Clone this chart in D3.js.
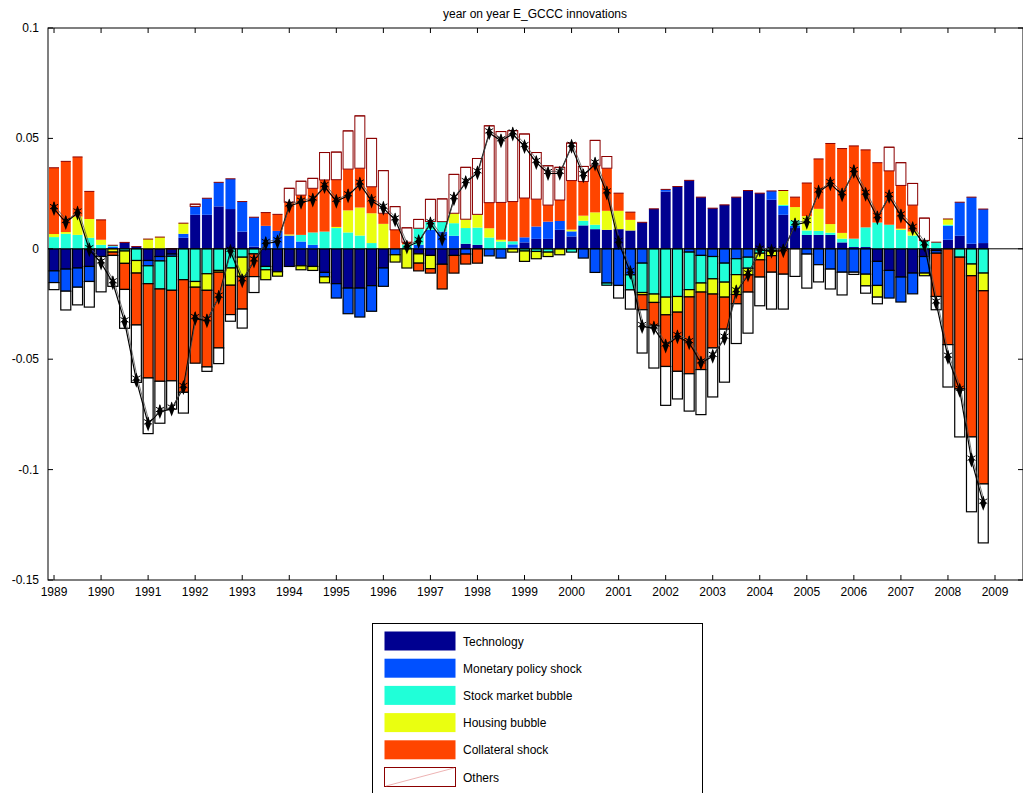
<!DOCTYPE html>
<html><head><meta charset="utf-8">
<script src="https://cdn.jsdelivr.net/npm/d3@7"></script>
<style>body{margin:0;background:#fff}text{font-family:"Liberation Sans",Arial,sans-serif}</style>
</head><body><svg id="c" width="1023" height="793"></svg>
<script>
const seriesNames=["Technology","Monetary policy shock","Stock market bubble","Housing bubble","Collateral shock","Others"];
const seriesColors=["#000090","#0050ff","#20ffd8","#eaff10","#ff4500","#ffffff"];
const yearTicks=d3.range(1989,2010);
const yTicks=[0.1,0.05,0,-0.05,-0.1,-0.15];
const tech=[-0.010,-0.0092,-0.0087,-0.008,-0.0035,0,0.0029,0.001,-0.0053,-0.0035,-0.0024,0.005,0.0154,0.0154,0.0192,0.018,0.0078,0.001,-0.008,-0.0104,-0.008,-0.0077,-0.008,-0.0107,-0.0158,-0.0178,-0.0178,-0.0167,-0.0087,0,0,-0.0023,-0.003,-0.007,-0.003,0.0023,0.0018,0,0,0.0005,0.0029,0.0045,0.0045,0.0086,0.0056,0.0106,0.0089,0.0086,0.0089,0.0083,0.012,0.0181,0.0259,0.0282,0.031,0.0234,0.0184,0.0199,0.0234,0.0264,0.0252,0.0222,0.0154,0.0094,0.0063,0.0063,0.0063,0.0029,0.0008,0.0008,-0.0057,-0.0098,-0.0128,-0.011,-0.0035,-0.0008,0.0041,0.0059,0.0023,0.0026];
const mon=[-0.0053,-0.010,-0.0087,-0.0068,0,0.001,0,0,-0.0024,-0.002,-0.001,0.0018,0.0038,0.0075,0.0109,0.0137,0.0136,0.0133,0.0104,0.0081,0.006,0.0033,0.0018,-0.002,-0.0065,-0.0116,-0.0131,-0.0116,-0.0083,-0.0027,0,0.0018,0.0086,0.0078,0.0059,-0.0024,0,-0.0032,-0.0042,0.0015,0.0023,0.0056,0.0078,0.004,0.0023,-0.0042,-0.0107,-0.0155,-0.0166,-0.0118,-0.0065,0,0.001,0,-0.0015,-0.003,-0.0035,-0.0065,-0.0045,-0.0038,0,0.004,0.004,0.001,-0.0024,-0.0072,-0.0092,-0.0106,-0.0106,-0.0115,-0.0109,-0.0125,-0.0113,-0.0094,-0.0075,-0.0012,0.0063,0.0152,0.0211,0.0154];
const stock=[0.0053,0.0068,0.0063,0.005,0.0018,0.0006,-0.001,-0.0053,-0.0081,-0.0127,-0.0154,-0.014,-0.0148,-0.0113,-0.0098,-0.0087,-0.0038,-0.0023,-0.0015,0,0,0.003,0.0056,0.0078,0.0094,0.0074,0.006,0.0026,0,0,0.002,0.0075,0.0038,0.0045,0.0057,0.0071,0.0078,0.0051,0.0033,0.0014,-0.001,-0.0012,-0.0015,0,-0.0015,0.0021,0.002,-0.001,0,-0.0068,-0.0133,-0.0205,-0.0219,-0.0216,-0.017,-0.0125,-0.0101,-0.0086,-0.0072,-0.005,-0.002,-0.0008,0.0005,0.0025,0.002,0.0018,0.001,0.0017,0.0038,0.0089,0.0119,0.0109,0.0086,0.006,0.0038,0.003,0.0005,-0.0038,-0.0069,-0.011];
const housing=[0.0014,0.0008,0.0083,0.0085,0.0023,-0.0015,-0.0056,-0.0057,0.0044,0.0053,0,0.0048,-0.0026,-0.0075,-0.0008,-0.0078,-0.0087,0,-0.0045,-0.002,0.0005,-0.0018,-0.0018,-0.0027,0.0005,0.010,0.0127,0.0135,0.0113,-0.0033,-0.0087,-0.0042,-0.006,0,0.0045,0.004,0.006,0.0042,0.0008,-0.0015,-0.0047,-0.0033,-0.002,-0.0027,0.0008,0.0023,0.0056,0.0086,0.0083,0.0048,-0.001,-0.0038,-0.008,-0.0071,-0.0033,-0.0041,-0.0069,-0.0068,-0.009,-0.003,-0.003,-0.0023,0.0065,0.006,0.0065,0.010,0.0039,0.0026,0,-0.0053,-0.0053,0,0.0005,0.0018,-0.0012,0,0.0026,0,-0.0053,-0.008];
const collateral=[0.030,0.032,0.027,0.0125,0.009,-0.0015,-0.0118,-0.0235,-0.0427,-0.0418,-0.041,-0.051,-0.0344,-0.0347,-0.0343,-0.0133,-0.0148,-0.0103,0.006,0.0075,0.0146,0.018,0.020,0.0234,0.0214,0.0187,0.0178,0.012,0.0048,0.0086,0.001,-0.0035,-0.002,-0.0112,-0.008,-0.0045,-0.0065,0.0116,0.0169,0.018,0.0178,0.0124,0.0075,0.0095,0.0222,0.0155,0.0211,0.0193,0.008,0.0035,-0.0068,-0.0106,-0.0234,-0.0268,-0.0348,-0.0351,-0.0244,-0.0145,-0.0042,-0.0078,-0.0078,-0.0075,-0.0115,0.0045,0.015,0.0226,0.0365,0.0382,0.042,0.0351,0.0271,0.0244,0.0196,0.012,0,-0.0196,-0.0434,-0.0597,-0.073,-0.0875];
const others=[-0.0032,-0.0085,-0.008,-0.0116,-0.016,-0.014,-0.0176,-0.026,-0.0252,-0.019,-0.0128,-0.0094,0.001,-0.002,-0.0071,-0.003,-0.0086,-0.0072,0,0,0.0063,0.0063,0.0045,0.0124,0.0125,0.0173,0.0237,0.0219,0.0193,0.0105,0.0065,0.004,0.010,0.0103,0.0176,0.0235,0.0253,0.0348,0.0321,0.0321,0.029,0.0211,0.0178,0.0148,0.017,0.0068,0.0115,0.0053,-0.0057,-0.0087,-0.0196,-0.0191,-0.0176,-0.0125,-0.0169,-0.0204,-0.0222,-0.024,-0.018,-0.0186,-0.013,-0.0167,-0.0158,-0.0125,-0.0154,-0.0078,-0.009,-0.0103,-0.001,-0.0033,-0.003,0.0107,0.0103,0.0098,0.0101,-0.006,-0.0192,-0.0217,-0.0339,-0.0267];
const series=[tech,mon,stock,housing,collateral,others];

const svg=d3.select("#c");
const L=48,R=1023,T=28,B=580;
const x=d3.scaleLinear().domain([1988.872,2009.595]).range([L,R]);
const y=d3.scaleLinear().domain([-0.15,0.1]).range([B,T]);
const n=tech.length, bw=10;
const g=svg.append("g");
const totals=[];
for(let i=0;i<n;i++){
  let p=0,q=0,tot=0;const t=1989+i/4;
  series.forEach((s,k)=>{
    const v=s[i];tot+=v;
    let y0,y1;
    if(v>=0){y0=p;y1=p+v;p=y1;}else{y0=q;y1=q+v;q=y1;}
    if(v===0)return;
    const isOther=k===5;
    g.append("rect").attr("x",x(t)-bw/2).attr("width",bw)
     .attr("y",y(Math.max(y0,y1))).attr("height",Math.abs(y(y0)-y(y1)))
     .attr("fill",seriesColors[k])
     .attr("stroke",v<0?"#000":(isOther?"#8b0000":"none")).attr("stroke-width",v<0?1.2:1);
  });
  // thin cap on top of positive stack
  g.append("line").attr("x1",x(t)-bw/2).attr("x2",x(t)+bw/2).attr("y1",y(p)).attr("y2",y(p)).attr("stroke","#8b0000").attr("stroke-width",1);
  totals.push([t,tot]);
}
// zero line
svg.append("line").attr("x1",L).attr("x2",R).attr("y1",y(0)).attr("y2",y(0)).attr("stroke","#000");
// total line
const line=d3.line().x(d=>x(d[0])).y(d=>y(d[1]));
svg.append("path").datum(totals).attr("d",line).attr("fill","none").attr("stroke","#000").attr("stroke-width",1.2);
svg.append("path").datum(totals).attr("d",line).attr("fill","none").attr("stroke","#555").attr("stroke-width",0.8).attr("transform","translate(1,-2)");
const dia=d3.symbol().type(d3.symbolDiamond).size(45);
const ast=d3.symbol().type(d3.symbolAsterisk).size(60);
svg.selectAll(".dm").data(totals).join("path").attr("d",dia).attr("transform",d=>`translate(${x(d[0])},${y(d[1])}) scale(0.8,1.2)`).attr("fill","#000");
svg.selectAll(".as").data(totals).join("path").attr("d",ast).attr("transform",d=>`translate(${x(d[0])},${y(d[1])-2})`).attr("fill","none").attr("stroke","#000").attr("stroke-width",1);
// frame
svg.append("rect").attr("x",L).attr("y",T).attr("width",R-L).attr("height",B-T).attr("fill","none").attr("stroke","#000");
// y ticks
yTicks.forEach(v=>{
  svg.append("line").attr("x1",L).attr("x2",L+5).attr("y1",y(v)).attr("y2",y(v)).attr("stroke","#000");
  svg.append("line").attr("x1",R-5).attr("x2",R).attr("y1",y(v)).attr("y2",y(v)).attr("stroke","#000");
  svg.append("text").attr("x",L-9).attr("y",y(v)+4).attr("text-anchor","end").attr("font-size",12).text(v===0?"0":String(v).replace(/^0\./,"0.").replace(/^-0\./,"-0."));
});
yearTicks.forEach(v=>{
  svg.append("line").attr("x1",x(v)).attr("x2",x(v)).attr("y1",B).attr("y2",B-5).attr("stroke","#000");
  svg.append("line").attr("x1",x(v)).attr("x2",x(v)).attr("y1",T).attr("y2",T+5).attr("stroke","#000");
  svg.append("text").attr("x",x(v)).attr("y",B+16).attr("text-anchor","middle").attr("font-size",12).text(v);
});
svg.append("text").attr("x",535).attr("y",18).attr("text-anchor","middle").attr("font-size",12).text("year on year E_GCCC innovations");
// legend
const lg=svg.append("g");
lg.append("rect").attr("x",372.5).attr("y",623.5).attr("width",330).attr("height",180).attr("fill","#fff").attr("stroke","#000");
seriesNames.forEach((nm,k)=>{
  const cy=641+k*27.2;
  lg.append("rect").attr("x",384.5).attr("y",cy-9.5).attr("width",71).attr("height",19).attr("fill",seriesColors[k]).attr("stroke",k===5?"#8b0000":"none");
  if(k===5) lg.append("line").attr("x1",386).attr("y1",cy+9).attr("x2",454).attr("y2",cy-9).attr("stroke","#e08080").attr("stroke-width",0.6);
  lg.append("text").attr("x",463).attr("y",cy+4.5).attr("font-size",12).text(nm);
});
</script></body></html>
